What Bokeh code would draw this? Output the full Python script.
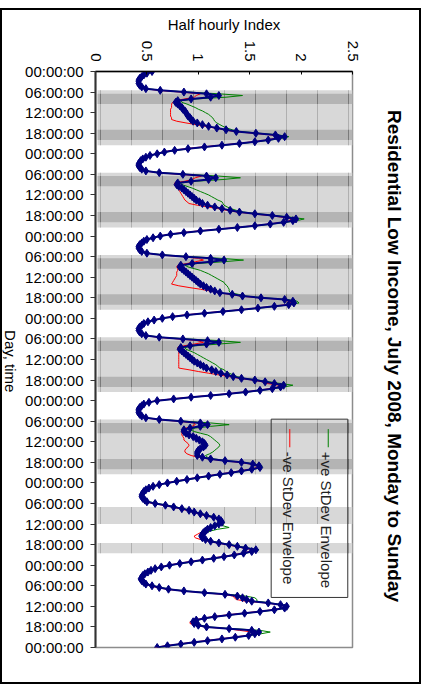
import math
from bokeh.plotting import figure
from bokeh.layouts import row
from bokeh.models import Range1d, FixedTicker, Label, ColumnDataSource
from bokeh.embed import file_html
from bokeh.resources import INLINE

# ---------------- data (half-hourly index, Monday .. Sunday) ----------------
day_names = ["Mon", "Tue", "Wed", "Thu", "Fri", "Sat", "Sun"]

mon_mean = [0.55, 0.50, 0.47, 0.45, 0.43, 0.42, 0.42, 0.42, 0.43, 0.45,
            0.49, 0.63, 0.86, 1.08, 1.20, 1.12, 0.93, 0.80, 0.78, 0.80,
            0.82, 0.84, 0.85, 0.87, 0.88, 0.89, 0.90, 0.92, 0.93, 0.95,
            0.99, 1.04, 1.10, 1.18, 1.27, 1.37, 1.56, 1.75, 1.84, 1.78,
            1.68, 1.55, 1.40, 1.23, 1.06, 0.90, 0.77, 0.67]
tue_mean = [0.60, 0.53, 0.49, 0.46, 0.44, 0.43, 0.42, 0.42, 0.43, 0.45,
            0.49, 0.62, 0.85, 1.08, 1.17, 1.10, 0.93, 0.80, 0.79, 0.81,
            0.84, 0.86, 0.88, 0.90, 0.92, 0.94, 0.96, 0.98, 1.01, 1.04,
            1.09, 1.16, 1.23, 1.31, 1.40, 1.55, 1.72, 1.86, 1.95, 1.92,
            1.83, 1.70, 1.55, 1.38, 1.20, 1.02, 0.86, 0.73]
wed_mean = [0.63, 0.56, 0.50, 0.47, 0.45, 0.43, 0.42, 0.42, 0.43, 0.45,
            0.50, 0.65, 0.88, 1.12, 1.25, 1.12, 0.94, 0.83, 0.82, 0.84,
            0.86, 0.88, 0.90, 0.92, 0.94, 0.96, 0.98, 1.00, 1.02, 1.05,
            1.08, 1.12, 1.16, 1.21, 1.33, 1.43, 1.61, 1.84, 1.92, 1.93,
            1.88, 1.74, 1.58, 1.42, 1.24, 1.06, 0.89, 0.75]
thu_mean = [0.65, 0.57, 0.51, 0.47, 0.45, 0.43, 0.42, 0.42, 0.43, 0.45,
            0.49, 0.62, 0.85, 1.09, 1.20, 1.08, 0.92, 0.83, 0.82, 0.84,
            0.86, 0.88, 0.90, 0.92, 0.94, 0.96, 0.99, 1.02, 1.05, 1.08,
            1.13, 1.17, 1.22, 1.28, 1.34, 1.42, 1.55, 1.65, 1.74, 1.83,
            1.80, 1.72, 1.60, 1.46, 1.30, 1.12, 0.93, 0.76]
fri_mean = [0.60, 0.52, 0.47, 0.45, 0.43, 0.42, 0.42, 0.42, 0.43, 0.45,
            0.49, 0.62, 0.83, 1.02, 1.09, 1.02, 0.92, 0.86, 0.86, 0.88,
            0.91, 0.95, 0.98, 1.01, 1.04, 1.06, 1.07, 1.05, 1.02, 1.00,
            0.99, 0.99, 0.99, 1.04, 1.12, 1.26, 1.42, 1.53, 1.59, 1.60,
            1.52, 1.42, 1.32, 1.21, 1.10, 0.99, 0.89, 0.79]
sat_mean = [0.70, 0.62, 0.56, 0.52, 0.49, 0.47, 0.46, 0.45, 0.45, 0.46,
            0.48, 0.50, 0.58, 0.68, 0.76, 0.84, 0.91, 0.96, 1.02, 1.08,
            1.15, 1.20, 1.22, 1.23, 1.20, 1.16, 1.12, 1.09, 1.07, 1.05,
            1.04, 1.03, 1.04, 1.07, 1.12, 1.20, 1.30, 1.38, 1.46, 1.56,
            1.52, 1.44, 1.35, 1.25, 1.15, 1.04, 0.93, 0.82]
sun_mean = [0.72, 0.64, 0.58, 0.54, 0.51, 0.48, 0.46, 0.45, 0.44, 0.45,
            0.47, 0.49, 0.55, 0.62, 0.71, 0.86, 1.06, 1.26, 1.38, 1.43,
            1.47, 1.52, 1.68, 1.80, 1.86, 1.84, 1.74, 1.60, 1.45, 1.30,
            1.16, 1.06, 0.98, 0.95, 0.96, 1.00, 1.08, 1.30, 1.52, 1.59,
            1.55, 1.49, 1.36, 1.23, 1.09, 0.96, 0.83, 0.70]
end_mean = 0.60

# +ve standard deviation (distance of the +ve envelope above the mean)
mon_sd_pos = [0.01, 0.01, 0.01, 0.01, 0.01, 0.01, 0.01, 0.01, 0.01, 0.01,
              0.01, 0.02, 0.04, 0.12, 0.23, 0.15, 0.05, 0.03, 0.06, 0.09,
              0.11, 0.13, 0.15, 0.17, 0.19, 0.21, 0.22, 0.22, 0.22, 0.21,
              0.19, 0.17, 0.14, 0.10, 0.06, 0.04, 0.03, 0.03, 0.04, 0.03,
              0.02, 0.02, 0.02, 0.02, 0.02, 0.02, 0.02, 0.02]
tue_sd_pos = [0.01, 0.01, 0.01, 0.01, 0.01, 0.01, 0.01, 0.01, 0.01, 0.01,
              0.01, 0.02, 0.04, 0.12, 0.24, 0.14, 0.05, 0.03, 0.05, 0.08,
              0.10, 0.12, 0.14, 0.16, 0.18, 0.19, 0.20, 0.21, 0.22, 0.20,
              0.16, 0.12, 0.09, 0.06, 0.04, 0.03, 0.03, 0.04, 0.08, 0.04,
              0.02, 0.02, 0.02, 0.02, 0.02, 0.02, 0.02, 0.02]
wed_sd_pos = [0.01, 0.01, 0.01, 0.01, 0.01, 0.01, 0.01, 0.01, 0.01, 0.01,
              0.01, 0.02, 0.04, 0.10, 0.19, 0.12, 0.05, 0.04, 0.08, 0.12,
              0.16, 0.18, 0.20, 0.21, 0.22, 0.23, 0.24, 0.25, 0.24, 0.23,
              0.21, 0.18, 0.14, 0.10, 0.06, 0.03, 0.03, 0.03, 0.04, 0.05,
              0.02, 0.02, 0.02, 0.02, 0.02, 0.02, 0.02, 0.02]
thu_sd_pos = [0.01, 0.01, 0.01, 0.01, 0.01, 0.01, 0.01, 0.01, 0.01, 0.01,
              0.01, 0.02, 0.04, 0.12, 0.21, 0.12, 0.05, 0.04, 0.06, 0.08,
              0.10, 0.11, 0.12, 0.13, 0.14, 0.15, 0.15, 0.15, 0.14, 0.13,
              0.12, 0.10, 0.08, 0.06, 0.04, 0.03, 0.03, 0.04, 0.06, 0.09,
              0.04, 0.02, 0.02, 0.02, 0.02, 0.02, 0.02, 0.02]
fri_sd_pos = [0.01, 0.01, 0.01, 0.01, 0.01, 0.01, 0.01, 0.01, 0.01, 0.01,
              0.01, 0.02, 0.04, 0.10, 0.21, 0.10, 0.05, 0.06, 0.10, 0.14,
              0.18, 0.17, 0.16, 0.15, 0.14, 0.14, 0.14, 0.15, 0.16, 0.16,
              0.15, 0.12, 0.08, 0.05, 0.03, 0.02, 0.02, 0.02, 0.03, 0.02,
              0.02, 0.02, 0.02, 0.02, 0.02, 0.02, 0.02, 0.02]
sat_sd_pos = [0.01, 0.01, 0.01, 0.01, 0.01, 0.01, 0.01, 0.01, 0.01, 0.01,
              0.01, 0.02, 0.02, 0.02, 0.02, 0.02, 0.02, 0.02, 0.02, 0.02,
              0.02, 0.02, 0.02, 0.02, 0.04, 0.08, 0.18, 0.10, 0.05, 0.03,
              0.02, 0.02, 0.02, 0.02, 0.02, 0.02, 0.02, 0.02, 0.03, 0.03,
              0.02, 0.02, 0.02, 0.02, 0.02, 0.02, 0.02, 0.02]
sun_sd_pos = [0.01, 0.01, 0.01, 0.01, 0.01, 0.01, 0.01, 0.01, 0.01, 0.01,
              0.01, 0.02, 0.02, 0.02, 0.02, 0.02, 0.02, 0.04, 0.08, 0.12,
              0.10, 0.05, 0.02, 0.02, 0.02, 0.02, 0.02, 0.02, 0.02, 0.02,
              0.02, 0.02, 0.02, 0.03, 0.03, 0.03, 0.02, 0.04, 0.08, 0.11,
              0.06, 0.02, 0.02, 0.02, 0.02, 0.02, 0.02, 0.02]

# -ve standard deviation (distance of the -ve envelope below the mean)
mon_sd_neg = [0.01, 0.01, 0.01, 0.01, 0.01, 0.01, 0.01, 0.01, 0.01, 0.01,
              0.01, 0.02, 0.03, 0.06, 0.22, 0.16, 0.06, 0.03, 0.03, 0.06,
              0.08, 0.10, 0.12, 0.14, 0.15, 0.16, 0.17, 0.18, 0.19, 0.16,
              0.11, 0.06, 0.03, 0.02, 0.02, 0.02, 0.03, 0.04, 0.05, 0.03,
              0.02, 0.02, 0.02, 0.02, 0.02, 0.02, 0.02, 0.02]
tue_sd_neg = [0.01, 0.01, 0.01, 0.01, 0.01, 0.01, 0.01, 0.01, 0.01, 0.01,
              0.01, 0.02, 0.03, 0.05, 0.20, 0.16, 0.06, 0.03, 0.02, 0.03,
              0.04, 0.05, 0.06, 0.07, 0.08, 0.09, 0.10, 0.11, 0.12, 0.13,
              0.10, 0.07, 0.04, 0.03, 0.02, 0.02, 0.03, 0.04, 0.05, 0.03,
              0.02, 0.02, 0.02, 0.02, 0.02, 0.02, 0.02, 0.02]
wed_sd_neg = [0.01, 0.01, 0.01, 0.01, 0.01, 0.01, 0.01, 0.01, 0.01, 0.01,
              0.01, 0.02, 0.04, 0.12, 0.20, 0.15, 0.05, 0.03, 0.03, 0.04,
              0.06, 0.09, 0.11, 0.13, 0.16, 0.19, 0.22, 0.25, 0.28, 0.24,
              0.17, 0.10, 0.05, 0.03, 0.02, 0.02, 0.02, 0.03, 0.04, 0.03,
              0.02, 0.02, 0.02, 0.02, 0.02, 0.02, 0.02, 0.02]
thu_sd_neg = [0.01, 0.01, 0.01, 0.01, 0.01, 0.01, 0.01, 0.01, 0.01, 0.01,
              0.01, 0.02, 0.04, 0.10, 0.15, 0.12, 0.06, 0.03, 0.02, 0.03,
              0.05, 0.07, 0.09, 0.11, 0.13, 0.15, 0.18, 0.21, 0.24, 0.27,
              0.22, 0.17, 0.12, 0.08, 0.04, 0.02, 0.02, 0.03, 0.07, 0.04,
              0.02, 0.02, 0.02, 0.02, 0.02, 0.02, 0.02, 0.02]
fri_sd_neg = [0.01, 0.01, 0.01, 0.01, 0.01, 0.01, 0.01, 0.01, 0.01, 0.01,
              0.01, 0.02, 0.03, 0.06, 0.12, 0.08, 0.04, 0.02, 0.02, 0.04,
              0.07, 0.10, 0.12, 0.15, 0.16, 0.16, 0.16, 0.15, 0.14, 0.13,
              0.12, 0.10, 0.06, 0.04, 0.02, 0.02, 0.02, 0.02, 0.02, 0.02,
              0.02, 0.02, 0.02, 0.02, 0.02, 0.02, 0.02, 0.02]
sat_sd_neg = [0.01, 0.01, 0.01, 0.01, 0.01, 0.01, 0.01, 0.01, 0.01, 0.01,
              0.01, 0.02, 0.02, 0.02, 0.02, 0.02, 0.02, 0.02, 0.02, 0.02,
              0.02, 0.02, 0.02, 0.02, 0.02, 0.02, 0.02, 0.02, 0.02, 0.03,
              0.05, 0.07, 0.07, 0.05, 0.03, 0.02, 0.02, 0.02, 0.02, 0.02,
              0.02, 0.02, 0.02, 0.02, 0.02, 0.02, 0.02, 0.02]
sun_sd_neg = [0.01, 0.01, 0.01, 0.01, 0.01, 0.01, 0.01, 0.01, 0.01, 0.01,
              0.01, 0.02, 0.02, 0.02, 0.02, 0.02, 0.02, 0.02, 0.04, 0.08,
              0.10, 0.06, 0.02, 0.02, 0.02, 0.02, 0.02, 0.02, 0.02, 0.02,
              0.02, 0.02, 0.02, 0.03, 0.04, 0.03, 0.02, 0.02, 0.12, 0.06,
              0.02, 0.02, 0.02, 0.02, 0.02, 0.02, 0.02, 0.02]
end_sd = 0.02

# tariff periods shaded behind the curves (hours of the day)
weekday_standard = [(5.5, 21.5)]
weekday_peak = [(6.5, 9.5), (17.0, 20.0)]
saturday_standard = [(7.0, 12.0), (17.5, 20.5)]

x_ticks = [0, 0.5, 1, 1.5, 2, 2.5]
x_tick_labels = ["0", "0.5", "1", "1.5", "2", "2.5"]
hour_ticks = list(range(0, 169, 6))
hour_tick_labels = ["%02d:00:00" % (h % 24) for h in hour_ticks]

legend_labels = ["+ve StDev Envelope", "-ve StDev Envelope"]
title_text = "Residential Low Income, July 2008, Monday to Sunday"
y_title = "Day, time"
x_title = "Half hourly Index"

# ---------------- assemble series ----------------
means = [mon_mean, tue_mean, wed_mean, thu_mean, fri_mean, sat_mean, sun_mean]
sd_pos = [mon_sd_pos, tue_sd_pos, wed_sd_pos, thu_sd_pos, fri_sd_pos, sat_sd_pos, sun_sd_pos]
sd_neg = [mon_sd_neg, tue_sd_neg, wed_sd_neg, thu_sd_neg, fri_sd_neg, sat_sd_neg, sun_sd_neg]

hours, mean, upper, lower = [], [], [], []
for d in range(7):
    for i in range(48):
        hours.append(d * 24 + i * 0.5)
        mean.append(means[d][i])
        upper.append(means[d][i] + sd_pos[d][i])
        lower.append(means[d][i] - sd_neg[d][i])
hours.append(168)
mean.append(end_mean)
upper.append(end_mean + end_sd)
lower.append(end_mean - end_sd)

src = ColumnDataSource(dict(h=hours, m=mean, up=upper, lo=lower))

light_b, light_t, dark_b, dark_t = [], [], [], []
for d in range(5):
    for a, b in weekday_standard:
        light_b.append(d * 24 + a); light_t.append(d * 24 + b)
    for a, b in weekday_peak:
        dark_b.append(d * 24 + a); dark_t.append(d * 24 + b)
for a, b in saturday_standard:
    light_b.append(5 * 24 + a); light_t.append(5 * 24 + b)

FONT = "Liberation Sans"
H = 672


def text_strip(width):
    """A bare figure whose frame is its whole canvas (1 unit = 1 px)."""
    f = figure(width=width, height=H, output_backend="svg", toolbar_location=None,
               x_range=Range1d(0, width), y_range=Range1d(H, 0),
               min_border_left=0, min_border_right=0, min_border_top=0, min_border_bottom=0)
    f.axis.visible = False
    f.grid.visible = False
    f.outline_line_color = None
    f.background_fill_color = "white"
    f.border_fill_color = "white"
    return f


# left strip: "Day, time"
left = text_strip(20)
left.add_layout(Label(x=8, y=338, text=y_title, angle=-math.pi / 2,
                      text_align="center", text_baseline="middle",
                      text_font=FONT, text_font_size="15px", text_color="black"))

# right strip: chart title
right = text_strip(47)
right.add_layout(Label(x=22, y=332, text=title_text, angle=-math.pi / 2,
                       text_align="center", text_baseline="middle",
                       text_font=FONT, text_font_size="19px", text_font_style="bold",
                       text_color="black"))

# main plot
p = figure(width=350, height=H, output_backend="svg", toolbar_location=None,
           x_range=Range1d(0, 2.5), y_range=Range1d(168, 0),
           x_axis_location="above",
           min_border_left=73, min_border_right=20, min_border_top=61, min_border_bottom=35)
p.background_fill_color = "white"
p.border_fill_color = "white"
p.outline_line_color = "#8c8c8c"
p.outline_line_width = 1.5
p.xgrid.visible = False
p.ygrid.visible = False

# shaded periods
p.quad(left=0.02, right=2.5, bottom=light_b, top=light_t,
       fill_color="#d8d8d8", line_color=None,
       hatch_pattern="vertical_line", hatch_scale=31, hatch_color="#b0b0b0", hatch_weight=1)
p.quad(left=0.02, right=2.5, bottom=dark_b, top=dark_t,
       fill_color="#b4b4b4", line_color=None,
       hatch_pattern="vertical_line", hatch_scale=31, hatch_color="#7a7a7a", hatch_weight=1)

# envelopes and mean
p.line("up", "h", source=src, line_color="#008000", line_width=1)
p.line("lo", "h", source=src, line_color="#ff0000", line_width=1)
p.line("m", "h", source=src, line_color="#000080", line_width=2)
p.scatter("m", "h", source=src, marker="diamond", size=8, fill_color="#000080", line_color="#000080")

# axes
xa = p.xaxis[0]
xa.ticker = FixedTicker(ticks=x_ticks)
xa.major_label_overrides = {t: l for t, l in zip(x_ticks, x_tick_labels)}
xa.major_label_orientation = -math.pi / 2
xa.major_label_text_font = FONT
xa.major_label_text_font_size = "15px"
xa.major_label_text_color = "black"
xa.major_label_standoff = 10
xa.major_tick_in = 3
xa.major_tick_out = 0
xa.minor_tick_line_color = None
xa.axis_line_color = "black"
xa.axis_line_width = 1.5
xa.major_tick_line_color = "black"
xa.axis_label = x_title
xa.axis_label_text_font = FONT
xa.axis_label_text_font_size = "15px"
xa.axis_label_text_font_style = "normal"
xa.axis_label_text_color = "black"
xa.axis_label_standoff = 5

ya = p.yaxis[0]
ya.ticker = FixedTicker(ticks=hour_ticks)
ya.major_label_overrides = {t: l for t, l in zip(hour_ticks, hour_tick_labels)}
ya.major_label_text_font = FONT
ya.major_label_text_font_size = "15px"
ya.major_label_text_color = "black"
ya.major_label_standoff = 7
ya.major_tick_in = 0
ya.major_tick_out = 5
ya.minor_tick_line_color = None
ya.axis_line_color = "#333333"
ya.axis_line_width = 2
ya.major_tick_line_color = "#333333"

# legend drawn by hand (rotated)
p.quad(left=[1.709], right=[2.454], top=[101.4], bottom=[153.4],
       fill_alpha=0, line_color="#333333", line_width=1)
p.segment(x0=[2.264], y0=[104.3], x1=[2.264], y1=[109.6], line_color="#008000", line_width=1)
p.segment(x0=[1.890], y0=[104.3], x1=[1.890], y1=[109.6], line_color="#ff0000", line_width=1)
p.add_layout(Label(x=2.244, y=110.9, text=legend_labels[0], angle=-math.pi / 2,
                   text_align="left", text_baseline="middle",
                   text_font=FONT, text_font_size="15px", text_color="#222222"))
p.add_layout(Label(x=1.875, y=110.9, text=legend_labels[1], angle=-math.pi / 2,
                   text_align="left", text_baseline="middle",
                   text_font=FONT, text_font_size="15px", text_color="#222222"))

page = row(left, p, right, spacing=0,
           styles={"border": "2px solid black", "margin-top": "8px"})

open("out.html", "w").write(file_html(page, INLINE))
